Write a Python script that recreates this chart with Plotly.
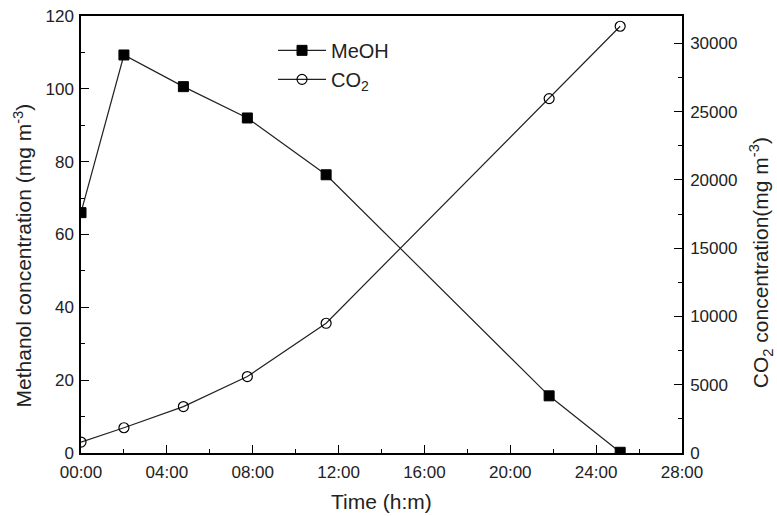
import plotly.graph_objects as go

# Time in hours
meoh_time = [0.0, 2.0, 4.77, 7.75, 11.42, 21.81, 25.12]
meoh_vals = [66, 109.3, 100.6, 92.0, 76.4, 15.7, 0.2]
co2_time = [0.0, 2.0, 4.77, 7.75, 11.42, 21.81, 25.12]
co2_vals = [800, 1850, 3400, 5600, 9500, 25950, 31250]

tick_vals = [0, 4, 8, 12, 16, 20, 24, 28]
tick_text = ["00:00", "04:00", "08:00", "12:00", "16:00", "20:00", "24:00", "28:00"]

x_title = "Time (h:m)"
y_title = "Methanol concentration (mg m<sup>-3</sup>)"
y2_title = "CO<sub>2</sub> concentration(mg m<sup>-3</sup>)"

font_family = "Liberation Sans, Arial, sans-serif"

fig = go.Figure()
fig.add_trace(go.Scatter(
    x=meoh_time, y=meoh_vals, name="MeOH", mode="lines+markers",
    line=dict(color="#222222", width=1.2),
    marker=dict(symbol="square", size=10, color="black", line=dict(color="black", width=1)),
))
fig.add_trace(go.Scatter(
    x=co2_time, y=co2_vals, name="CO<sub>2</sub>", mode="lines+markers", yaxis="y2",
    line=dict(color="#222222", width=1.2),
    marker=dict(symbol="circle-open", size=10, color="black", line=dict(color="black", width=1.2)),
))

axis_common = dict(
    showline=True, linecolor="black", linewidth=1.5,
    ticks="inside", ticklen=8, tickwidth=1.2, tickcolor="black",
    showgrid=False, zeroline=False, automargin=False,
    tickfont=dict(family=font_family, size=17, color="#222"),
)

fig.update_layout(
    width=777, height=516,
    margin=dict(l=81, r=95, t=16, b=63, autoexpand=False),
    paper_bgcolor="white", plot_bgcolor="white",
    font=dict(family=font_family, color="#222"),
    showlegend=True,
    legend=dict(x=0.3195, y=0.966, xanchor="left", yanchor="top",
                bgcolor="rgba(0,0,0,0)", font=dict(size=20, family=font_family),
                tracegroupgap=0, itemwidth=48),
    xaxis=dict(
        range=[0, 28], tickvals=tick_vals, ticktext=tick_text,
        minor=dict(ticks="inside", ticklen=4, tickwidth=1.2, tickcolor="black", dtick=2, tick0=0),
        mirror=True, ticklabelstandoff=3,
        **axis_common,
    ),
    yaxis=dict(
        range=[0, 120], dtick=20, ticklabelstandoff=2,
        minor=dict(ticks="inside", ticklen=4, tickwidth=1.2, tickcolor="black", dtick=10, tick0=0),
        **axis_common,
    ),
    yaxis2=dict(
        range=[0, 32000], dtick=5000, tickformat="d", overlaying="y", side="right",
        ticklabelstandoff=3,
        minor=dict(ticks="inside", ticklen=4, tickwidth=1.2, tickcolor="black", dtick=2500, tick0=0),
        **axis_common,
    ),
    annotations=[
        dict(text=x_title, xref="paper", yref="paper", x=0.5, y=-0.112,
             xanchor="center", yanchor="middle", showarrow=False,
             font=dict(size=21, family=font_family, color="#222")),
        dict(text=y_title, xref="paper", yref="paper", x=-0.0973, y=0.451, textangle=-90,
             xanchor="center", yanchor="middle", showarrow=False,
             font=dict(size=21, family=font_family, color="#222")),
        dict(text=y2_title, xref="paper", yref="paper", x=1.132, y=0.435, textangle=-90,
             xanchor="center", yanchor="middle", showarrow=False,
             font=dict(size=21, family=font_family, color="#222")),
    ],
)

fig.write_html("out.html", config={"displayModeBar": False},
               post_script="document.body.style.margin='0';")
